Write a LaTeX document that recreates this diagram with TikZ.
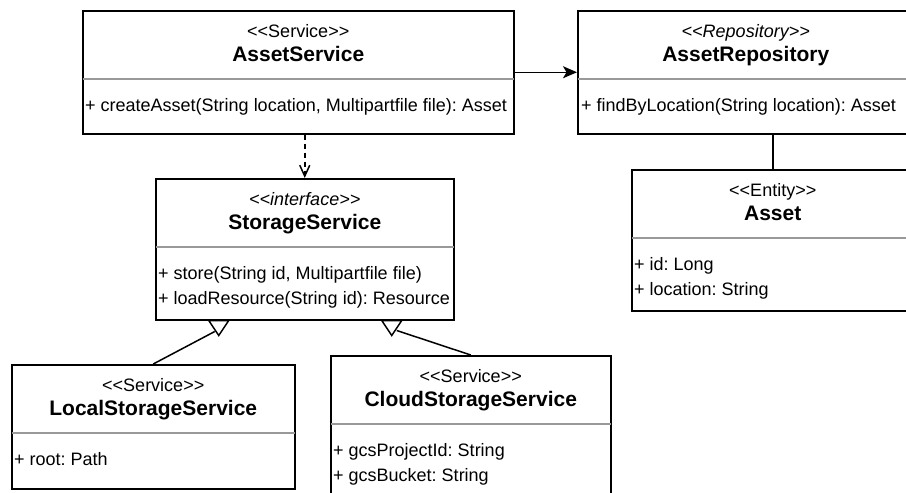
\documentclass[tikz,border=0pt]{standalone}
\usepackage{fontspec}
\setmainfont{Liberation Sans}
\usetikzlibrary{arrows.meta,positioning}
\definecolor{umlline}{HTML}{000000}
\definecolor{umldivider}{HTML}{999999}
% keep << >> from turning into guillemets
\newcommand{\stype}[1]{<\kern0pt<#1>\kern0pt>}
\frenchspacing

\begin{document}
\begin{tikzpicture}[
  x=1pt, y=-1pt,
  classbox/.style={
    draw=umlline,
    fill=white,
    line width=1.5pt,
    inner sep=0pt,
    anchor=north west
  },
  stereotext/.style={
    font=\fontsize{18}{21}\selectfont,
    inner sep=0pt,
    anchor=base
  },
  titletext/.style={
    font=\fontsize{21}{25}\selectfont\bfseries,
    inner sep=0pt,
    anchor=base
  },
  membertext/.style={
    font=\fontsize{18}{21}\selectfont,
    inner sep=0pt,
    anchor=base west
  },
  divider/.style={
    draw=umldivider,
    line width=1.5pt,
    shorten <=0.75pt,
    shorten >=0.75pt
  },
  assoc/.style={
    -{Stealth[length=14pt,width=12pt,inset=3.5pt]},
    line width=1.5pt
  },
  depend/.style={
    -{Straight Barb[length=11pt,width=10pt]},
    line width=1.5pt,
    dash pattern=on 5pt off 4pt
  },
  genline/.style={line width=1.5pt},
  genhead/.style={draw=umlline, fill=white, line width=1.5pt, line join=miter}
]

  \clip (0,0) rectangle (906,493);
  \fill[white] (0,0) rectangle (906,493);

  % ----------------------------------------------------
  % AssetService
  % ----------------------------------------------------
  \node[classbox, minimum width=431pt, minimum height=123pt] (asset_svc) at (82,10) {};
  \node[stereotext] (asset_svc_st) at ([yshift=-27pt]asset_svc.north) {\stype{Service}};
  \node[titletext] (asset_svc_nm) at ([yshift=-51pt]asset_svc.north) {AssetService};
  \draw[divider] ([yshift=-69pt]asset_svc.north west) -- ([yshift=-69pt]asset_svc.north east);
  \node[membertext] (asset_svc_m1) at ([shift={(3pt,-101pt)}]asset_svc.north west)
    {+ createAsset(String location, Multipartfile file): Asset};

  % ----------------------------------------------------
  % AssetRepository
  % ----------------------------------------------------
  \node[classbox, minimum width=336pt, minimum height=123pt] (asset_repo) at (577,10) {};
  \node[stereotext] (asset_repo_st) at ([yshift=-27pt]asset_repo.north) {\textit{\stype{Repository}}};
  \node[titletext] (asset_repo_nm) at ([yshift=-51pt]asset_repo.north) {AssetRepository};
  \draw[divider] ([yshift=-69pt]asset_repo.north west) -- ([yshift=-69pt]asset_repo.north east);
  \node[membertext] (asset_repo_m1) at ([shift={(4pt,-101pt)}]asset_repo.north west)
    {+ findByLocation(String location): Asset};

  % ----------------------------------------------------
  % Asset entity
  % ----------------------------------------------------
  \node[classbox, minimum width=282pt, minimum height=141pt] (asset_ent) at (631,169) {};
  \node[stereotext] (asset_ent_st) at ([yshift=-27pt]asset_ent.north) {\stype{Entity}};
  \node[titletext] (asset_ent_nm) at ([yshift=-51pt]asset_ent.north) {Asset};
  \draw[divider] ([yshift=-69pt]asset_ent.north west) -- ([yshift=-69pt]asset_ent.north east);
  \node[membertext] (asset_ent_m1) at ([shift={(3pt,-101pt)}]asset_ent.north west) {+ id: Long};
  \node[membertext] (asset_ent_m2) at ([shift={(3pt,-126pt)}]asset_ent.north west) {+ location: String};

  % ----------------------------------------------------
  % StorageService interface
  % ----------------------------------------------------
  \node[classbox, minimum width=298pt, minimum height=141pt] (storage) at (155,178) {};
  \node[stereotext] (storage_st) at ([yshift=-27pt]storage.north) {\textit{\stype{interface}}};
  \node[titletext] (storage_nm) at ([yshift=-51pt]storage.north) {StorageService};
  \draw[divider] ([yshift=-69pt]storage.north west) -- ([yshift=-69pt]storage.north east);
  \node[membertext] (storage_m1) at ([shift={(3pt,-101pt)}]storage.north west)
    {+ store(String id, Multipartfile file)};
  \node[membertext] (storage_m2) at ([shift={(3pt,-126pt)}]storage.north west)
    {+ loadResource(String id): Resource};

  % ----------------------------------------------------
  % LocalStorageService
  % ----------------------------------------------------
  \node[classbox, minimum width=283pt, minimum height=124pt] (local_st) at (11,364) {};
  \node[stereotext] (local_st_st) at ([yshift=-27pt]local_st.north) {\stype{Service}};
  \node[titletext] (local_st_nm) at ([yshift=-51pt]local_st.north) {LocalStorageService};
  \draw[divider] ([yshift=-69pt]local_st.north west) -- ([yshift=-69pt]local_st.north east);
  \node[membertext] (local_st_m1) at ([shift={(3pt,-101pt)}]local_st.north west) {+ root: Path};

  % ----------------------------------------------------
  % CloudStorageService
  % ----------------------------------------------------
  \node[classbox, minimum width=280pt, minimum height=170pt] (cloud_st) at (330,355) {};
  \node[stereotext] (cloud_st_st) at ([yshift=-27pt]cloud_st.north) {\stype{Service}};
  \node[titletext] (cloud_st_nm) at ([yshift=-51pt]cloud_st.north) {CloudStorageService};
  \draw[divider] ([yshift=-69pt]cloud_st.north west) -- ([yshift=-69pt]cloud_st.north east);
  \node[membertext] (cloud_st_m1) at ([shift={(3pt,-101pt)}]cloud_st.north west) {+ gcsProjectId: String};
  \node[membertext] (cloud_st_m2) at ([shift={(3pt,-126pt)}]cloud_st.north west) {+ gcsBucket: String};

  % Connectors
  \draw[assoc] (asset_svc) -- (asset_repo);
  \draw[depend] (asset_svc.south -| storage.north) -- (storage.north);
  \draw[genline] (asset_repo.south -| asset_ent.north) -- (asset_ent.north);

  % Generalisations up to the interface
  \coordinate (gen_l) at ([xshift=-86pt]storage.south);
  \coordinate (gen_r) at ([xshift=87pt]storage.south);
  \draw[genline] (local_st.north) -- ([shift={(-4pt,-11pt)}]gen_l);
  \draw[genline] (cloud_st.north) -- ([shift={(5pt,-10pt)}]gen_r);
  \draw[genhead] ([xshift=-10pt]gen_l) -- ([xshift=10pt]gen_l) -- ([yshift=-15pt]gen_l) -- cycle;
  \draw[genhead] ([xshift=-10pt]gen_r) -- ([xshift=10pt]gen_r) -- ([yshift=-15pt]gen_r) -- cycle;

\end{tikzpicture}
\end{document}
